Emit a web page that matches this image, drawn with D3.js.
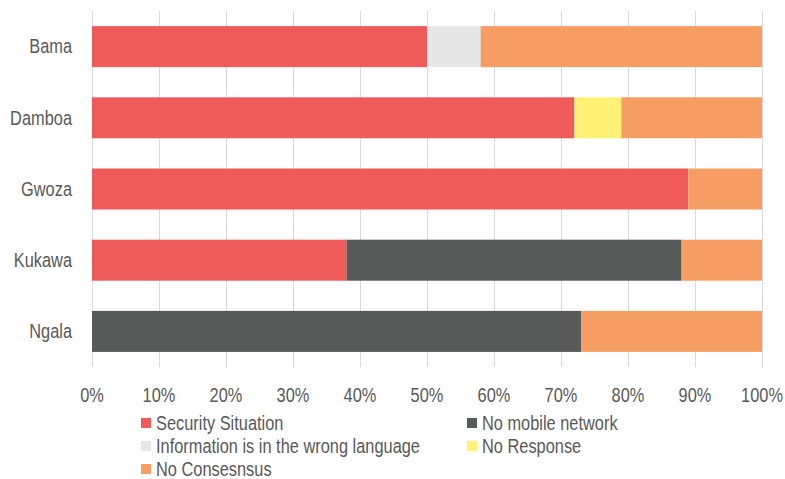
<!DOCTYPE html>
<html><head><meta charset="utf-8">
<script src="https://cdn.jsdelivr.net/npm/d3@7"></script>
<style>body{margin:0;background:#fff}svg{display:block}text{font-family:"Liberation Sans Narrow","Arial Narrow","Liberation Sans",Arial,sans-serif;fill:#595959}</style>
</head><body>
<svg id="c" width="785" height="479"></svg>
<script>
const categories = ["Bama","Damboa","Gwoza","Kukawa","Ngala"];
const seriesNames = ["Security Situation","No mobile network","Information is in the wrong language","No Response","No Consesnsus"];
const security = [50,72,89,38,0];
const noMobile = [0,0,0,50,73];
const wrongLang = [8,0,0,0,0];
const noResponse = [0,7,0,0,0];
const noConsensus = [42,21,11,12,27];
const colors = ["#EF5A5A","#585A59","#E6E6E6","#FFF176","#F59D62"];
const tickLabels = ["0%","10%","20%","30%","40%","50%","60%","70%","80%","90%","100%"];

const seriesVals = [security,noMobile,wrongLang,noResponse,noConsensus];

const svg = d3.select("#c");
const x = d3.scaleLinear().domain([0,100]).range([92,762]);
const y = d3.scaleBand().domain(categories).range([11,367]).paddingInner(0.424).paddingOuter(0.212);
const FS = 19.5, SX = 0.84;

// gridlines
svg.append("g").selectAll("line").data(d3.range(0,101,10)).join("line")
  .attr("x1",d=>x(d)+0.5).attr("x2",d=>x(d)+0.5).attr("y1",11).attr("y2",367)
  .attr("stroke","#d9d9d9").attr("stroke-width",1);

// bars
const rows = categories.map((c,i)=>{
  const o={cat:c};
  seriesNames.forEach((s,k)=>o[s]=seriesVals[k][i]);
  return o;
});
const keys = [seriesNames[0],seriesNames[2],seriesNames[3],seriesNames[1],seriesNames[4]];
const stack = d3.stack().keys(keys)(rows);
svg.append("g").selectAll("g").data(stack).join("g")
  .attr("fill",d=>colors[seriesNames.indexOf(d.key)])
  .selectAll("rect").data(d=>d).join("rect")
  .attr("x",d=>x(d[0])).attr("width",d=>x(d[1])-x(d[0]))
  .attr("y",d=>y(d.data.cat)).attr("height",y.bandwidth());

function narrowText(sel){
  return sel.attr("font-size",FS).attr("dy","0.35em");
}

// category labels
narrowText(svg.append("g").selectAll("text").data(categories).join("text")
  .attr("transform",d=>`translate(72,${y(d)+y.bandwidth()/2}) scale(${SX},1)`)
  .attr("text-anchor","end").text(d=>d));

// tick labels
narrowText(svg.append("g").selectAll("text").data(tickLabels).join("text")
  .attr("transform",(d,i)=>`translate(${x(i*10)},395) scale(${SX},1)`)
  .attr("text-anchor","middle").text(d=>d));

// legend
const legPos = [[141,423],[467,423],[141,446],[467,446],[141,469]];
const lg = svg.append("g").selectAll("g").data(seriesNames).join("g")
  .attr("transform",(d,i)=>`translate(${legPos[i][0]},${legPos[i][1]})`);
lg.append("rect").attr("x",0).attr("y",-5).attr("width",10).attr("height",10).attr("fill",(d,i)=>colors[i]);
narrowText(lg.append("text").attr("transform",`translate(15,0) scale(${SX},1)`).text(d=>d));
</script>
</body></html>
